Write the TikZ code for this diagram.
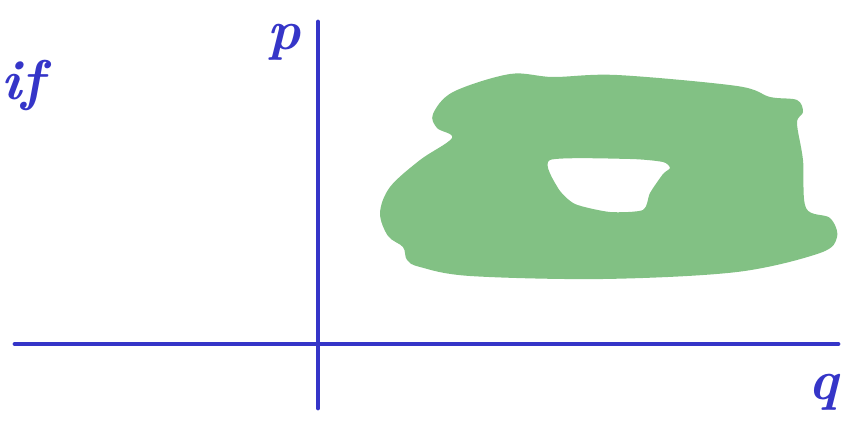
\documentclass[tikz,border=0pt]{standalone}
\usepackage{tikz}
\usepackage{xcolor}
\definecolor{penblue}{HTML}{3535C8}
\definecolor{blobgreen}{HTML}{82C184}
\tikzset{
  axis/.style={draw=penblue,line width=4.8pt,line cap=round},
  handlabel/.style={text=penblue,font=\fontsize{56}{56}\selectfont\itshape\bfseries,inner sep=0pt}
}

\begin{document}
\begin{tikzpicture}[x=1pt,y=-1pt]
  \useasboundingbox (0,0) rectangle (841,425);
  % shaded region with a hole
  \fill[blobgreen,even odd rule]
    plot[smooth cycle,tension=0.55] coordinates {(437,128) (433,114) (453,92) (510,74) (553,77) (617,75) (737,86)
      (770,97) (797,100) (803,112) (797,123) (803,160) (806,208) (830,218) (837,237) (820,253)
      (737,272) (603,279) (470,276) (420,267) (407,260) (403,247) (388,236) (380,213)
      (390,187) (420,160) (452,138)}
    plot[smooth cycle,tension=0.4] coordinates {(550,160) (630,159) (663,162) (670,168) (663,174)
      (650,193) (643,210) (610,212) (575,204) (558,188)};
  % axes
  \draw[axis] (15,344) -- (838,344);
  \draw[axis] (318,22) -- (318,408);
  % labels
  \node[handlabel] (plab) at (284,42) {p};
  \node[handlabel,anchor=east] (qlab) at (838,392) {q};
  \node[handlabel,anchor=west] (iflab) at (1,86) {if};
\end{tikzpicture}
\end{document}
